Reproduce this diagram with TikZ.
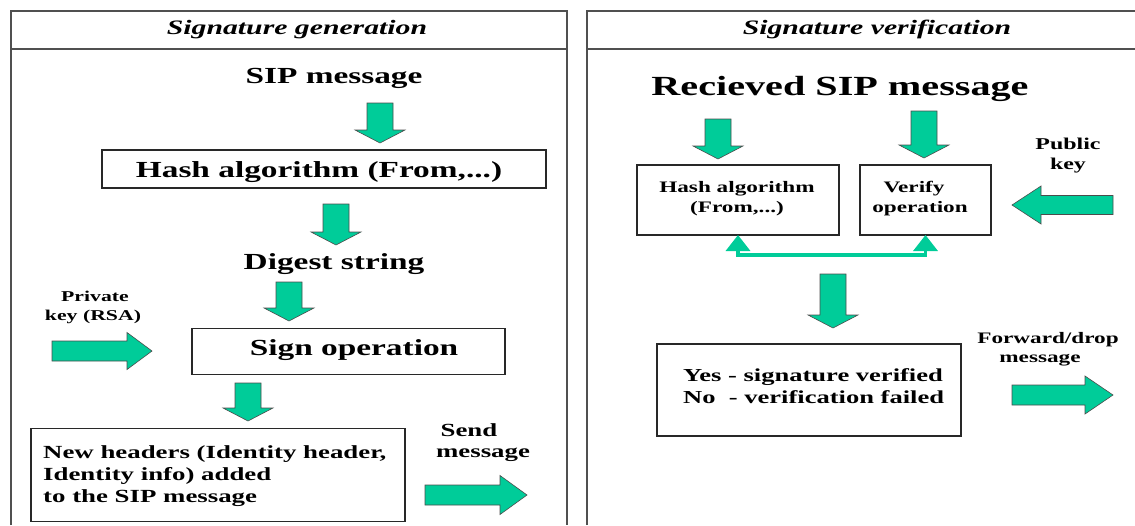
\documentclass[tikz,border=0pt]{standalone}
\usepackage{fontspec}
\setmainfont{Liberation Serif}[FakeStretch=1.45]
\usetikzlibrary{arrows.meta}

\definecolor{sea}{RGB}{0,204,153}
\definecolor{framegray}{RGB}{80,80,80}
\definecolor{boxline}{RGB}{40,40,40}

\newcommand\tsize[1]{\fontsize{#1}{#1}\selectfont}

% block arrows: solid green polygons with a thin dark outline
\newcommand\blkdown[3]{% centre x, top y, tip y
  \draw[blk] (#1-13,#2) -- (#1+13,#2) -- (#1+13,#3-13) -- (#1+25,#3-13)
    -- (#1,#3) -- (#1-25,#3-13) -- (#1-13,#3-13) -- cycle;}
\newcommand\blkright[6]{% tail x, tip x, centre y, shaft half, head half, head length
  \draw[blk] (#1,#3-#4) -- (#2-#6,#3-#4) -- (#2-#6,#3-#5) -- (#2,#3)
    -- (#2-#6,#3+#5) -- (#2-#6,#3+#4) -- (#1,#3+#4) -- cycle;}
\newcommand\blkleft[6]{% tail x, tip x, centre y, shaft half, head half, head length
  \draw[blk] (#1,#3-#4) -- (#2+#6,#3-#4) -- (#2+#6,#3-#5) -- (#2,#3)
    -- (#2+#6,#3+#5) -- (#2+#6,#3+#4) -- (#1,#3+#4) -- cycle;}

\begin{document}
\begin{tikzpicture}[x=1pt,y=-1pt,
  panel/.style={draw=framegray, line width=1.6pt},
  box/.style={draw=boxline, line width=1.2pt, inner sep=0pt, outer sep=0pt},
  lbl/.style={inner sep=0pt, anchor=base},
  ttl/.style={lbl, font={\tsize{20.5}\bfseries\itshape}},
  big/.style={lbl, font={\tsize{23}\bfseries}},
  mid/.style={lbl, font={\tsize{18.5}\bfseries}},
  sml/.style={lbl, font={\tsize{16}\bfseries}},
  blk/.style={fill=sea, draw=black!70, line width=0.6pt, line join=miter},
  link/.style={draw=sea, line width=3.5pt, line join=miter,
    {Triangle[width=24pt,length=16pt]}-{Triangle[width=24pt,length=16pt]}}
]
\useasboundingbox (0,0) rectangle (1135,525);

% ---- panel frames ----
\draw[panel] (10.7,525) -- (10.7,10.7) -- (566.7,10.7) -- (566.7,525);
\draw[panel] (10.7,49) -- (566.7,49);
\draw[panel] (586.7,525) -- (586.7,10.7) -- (1135,10.7);
\draw[panel] (586.7,49) -- (1135,49);

\node[ttl] (tgen) at (297,34.5) {Signature generation};
\node[ttl] (tver) at (877,34.5) {Signature verification};

% ---- signature generation ----
\node[big] (sip) at (334,83) {SIP message};
\node[box, minimum width=444, minimum height=38] (hashL) at (324,169) {};
\node[big] (hashLt) at (319,177) {Hash algorithm (From,...)};
\node[big] (digest) at (334,269) {Digest string};
\node[box, minimum width=313, minimum height=46] (sign) at (348.5,351.5) {};
\node[big] (signt) at (354,355) {Sign operation};

\node[sml, font={\tsize{15}\bfseries}] (priv1) at (95,301.5) {Private};
\node[sml, font={\tsize{15}\bfseries}] (priv2) at (93,320.5) {key (RSA)};

\node[box, minimum width=374, minimum height=93] (hdr) at (218,475) {};
\node[mid, anchor=base west] (hdr1) at (43,458) {New headers (Identity header,};
\node[mid, anchor=base west] (hdr2) at (43,480) {Identity info) added};
\node[mid, anchor=base west] (hdr3) at (43,502) {to the SIP message};

\node[mid] (send1) at (469,436) {Send};
\node[mid] (send2) at (483,457.5) {message};

\blkdown{380}{103}{143}
\blkdown{336}{204}{245}
\blkdown{289}{282}{321}
\blkdown{248}{383}{421}
\blkright{52}{152}{351}{10}{18.5}{25}
\blkright{425}{527}{495}{10}{19.5}{27}

% ---- signature verification ----
\node[lbl, font={\tsize{27.7}\bfseries}] (recv) at (840,95) {Recieved SIP message};

\node[box, minimum width=202, minimum height=70] (hashR) at (738,200) {};
\node[sml] (hashR1) at (737,192.5) {Hash algorithm};
\node[sml] (hashR2) at (737,212) {(From,...)};

\node[box, minimum width=131, minimum height=70] (verify) at (925.5,200) {};
\node[sml] (ver1) at (914,192.5) {Verify};
\node[sml] (ver2) at (920,212) {operation};

\node[sml, font={\tsize{16.5}\bfseries}] (pub1) at (1068,149) {Public};
\node[sml, font={\tsize{16.5}\bfseries}] (pub2) at (1068,169) {key};

\draw[link] (hashR.south) -- ++(0,20) -| (verify.south);

\node[box, minimum width=304, minimum height=92] (result) at (809,390) {};
\node[mid, font={\tsize{18.3}\bfseries}, anchor=base west] (res1) at (683,381.5) {Yes - signature verified};
\node[mid, font={\tsize{18.3}\bfseries}, anchor=base west] (res2) at (683,403) {No\ \ - verification failed};

\node[sml] (fwd1) at (1048,343) {Forward/drop};
\node[sml] (fwd2) at (1040,362) {message};

\blkdown{718}{119}{159}
\blkdown{924}{111}{158}
\blkdown{833}{274}{328}
\blkleft{1113}{1012}{205}{9.5}{19}{29}
\blkright{1012}{1113}{395}{10}{19}{28}

\end{tikzpicture}
\end{document}
